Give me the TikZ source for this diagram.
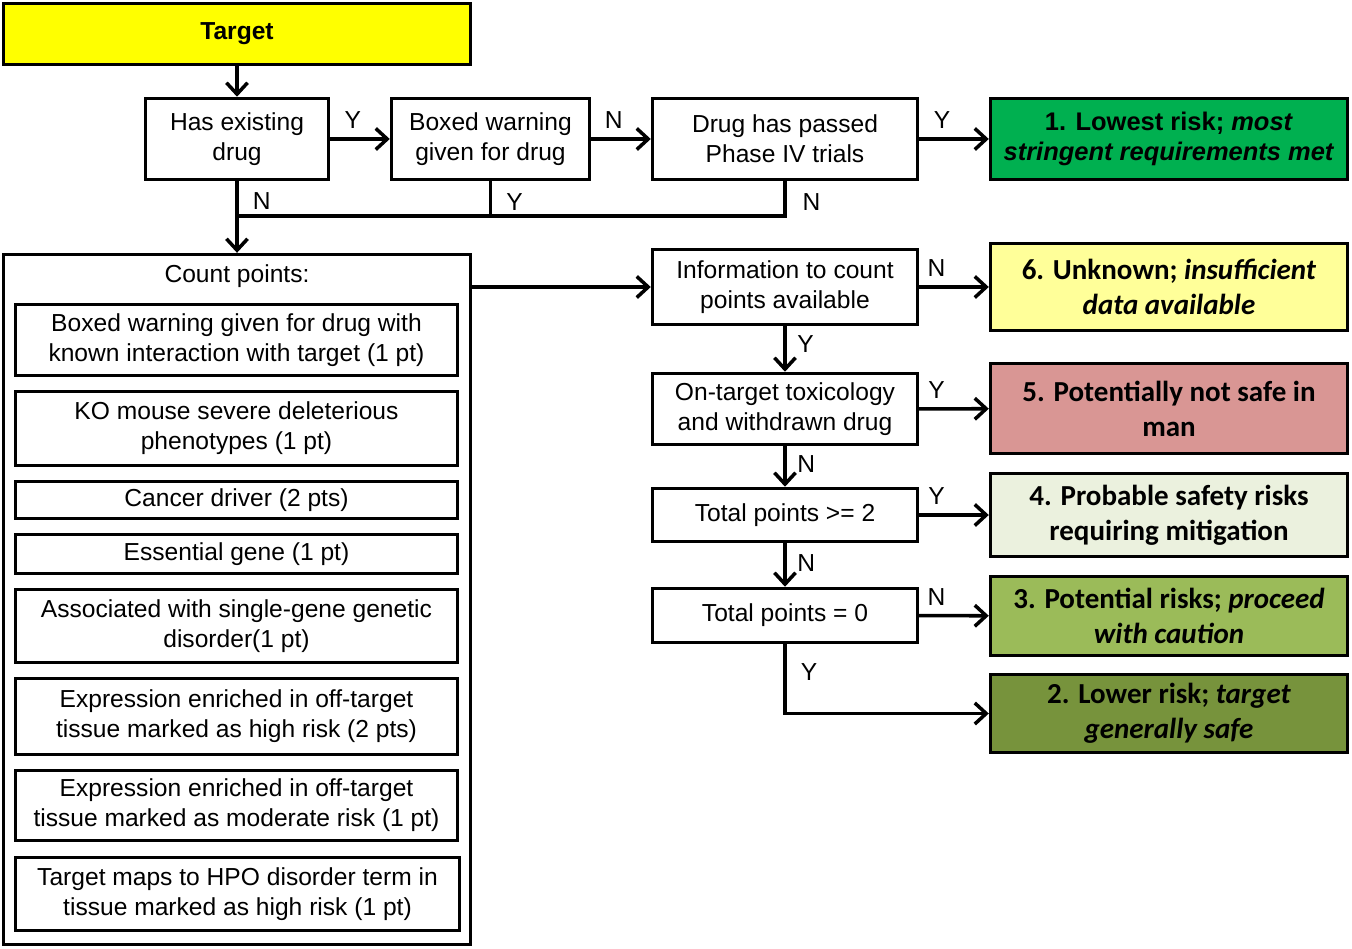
\documentclass[tikz,border=0pt]{standalone}
\usepackage{fontspec}
\setmainfont{Liberation Sans}
\newfontfamily\calfont{Carlito}
\usetikzlibrary{arrows.meta}

\definecolor{tgtyellow}{HTML}{FFFF00}
\definecolor{riskone}{HTML}{00B050}
\definecolor{risktwo}{HTML}{77933C}
\definecolor{riskthree}{HTML}{9BBB59}
\definecolor{riskfour}{HTML}{EBF1DE}
\definecolor{riskfive}{HTML}{D99694}
\definecolor{risksix}{HTML}{FFFF99}

\begin{document}
\begin{tikzpicture}[x=0.02cm, y=-0.02cm,
  box/.style={draw, line width=2pt, align=center, inner sep=0pt,
    font=\fontsize{14}{17}\selectfont},
  res/.style={box, minimum width=7.14cm, font=\calfont\bfseries\fontsize{16.5}{20}\selectfont},
  crit/.style={box, minimum width=8.84cm},
  ques/.style={box, minimum width=5.3cm},
  lnk/.style={line width=2pt},
  arr/.style={lnk, -{Straight Barb[length=6.5pt, width=12pt, line width=2pt]}},
  lbl/.style={font=\fontsize{14}{17}\selectfont, inner sep=2pt}]

  \useasboundingbox (0,0) rectangle (1352,949);

  % -- Start --
  \node[box, fill=tgtyellow, minimum width=9.34cm, minimum height=1.22cm, font=\bfseries\fontsize{14}{17}\selectfont] (target) at (237,34) {Target};

  % -- Top row of decisions --
  \node[box, minimum width=3.66cm, minimum height=1.62cm] (has) at (237,139) {Has existing\\drug};
  \node[box, minimum width=3.96cm, minimum height=1.62cm] (boxed) at (490.5,139) {Boxed warning\\given for drug};
  \node[ques, minimum height=1.62cm] (passed) at (785,139) {Drug has passed\\Phase IV trials};
  \node[res, fill=riskone, minimum height=1.62cm, font=\bfseries\fontsize{14.5}{17}\selectfont] (res1) at (1169,139) {1. Lowest risk; \textit{most}\\\textit{stringent requirements met}};

  \draw[arr] (target) -- (has);
  \draw[arr] (has) -- node[lbl, above, pos=0.38, yshift=3pt] {Y} (boxed);
  \draw[arr] (boxed) -- node[lbl, above, pos=0.38, yshift=3pt] {N} (passed);
  \draw[arr] (passed) -- node[lbl, above, pos=0.33, yshift=3pt] {Y} (res1);

  % -- Back to counting --
  \coordinate (join) at (237,216);
  \draw[lnk] (boxed) |- node[lbl, right, pos=0.3, xshift=6pt] {Y} (join);
  \draw[lnk] (passed) |- node[lbl, right, pos=0.3, xshift=7pt] {N} (join);

  % -- Count points panel --
  \node[box, minimum width=9.34cm, minimum height=13.8cm] (count) at (237,599.5) {};
  \node[lbl] (counttitle) at (237,276) {Count points:};
  \draw[arr] (has) -- node[lbl, right, pos=0.27, xshift=6pt] {N} (count);

  \node[crit, minimum height=1.42cm] (c1) at (236.5,340) {Boxed warning given for drug with\\known interaction with target (1 pt)};
  \node[crit, minimum height=1.48cm] (c2) at (236.5,428.5) {KO mouse severe deleterious\\phenotypes (1 pt)};
  \node[crit, minimum height=0.74cm] (c3) at (236.5,500) {Cancer driver  (2 pts)};
  \node[crit, minimum height=0.78cm] (c4) at (236.5,554) {Essential gene (1 pt)};
  \node[crit, minimum height=1.46cm] (c5) at (236.5,626) {Associated with single-gene genetic\\disorder(1 pt)};
  \node[crit, minimum height=1.52cm] (c6) at (236.5,716.5) {Expression enriched in off-target\\tissue marked as high risk (2 pts)};
  \node[crit, minimum height=1.40cm] (c7) at (236.5,805.5) {Expression enriched in off-target\\tissue marked as moderate risk (1 pt)};
  \node[crit, minimum width=8.88cm, minimum height=1.46cm] (c8) at (237.5,894) {Target maps to HPO disorder term in\\tissue marked as high risk (1 pt)};

  % -- Right column of decisions --
  \node[ques, minimum height=1.5cm] (info) at (785,287) {Information to count\\points available};
  \node[ques, minimum height=1.42cm] (ontox) at (785,409) {On-target toxicology\\and withdrawn drug};
  \node[ques, minimum height=1.06cm] (ge2) at (785,515) {Total points >= 2};
  \node[ques, minimum height=1.08cm] (eq0) at (785,615.5) {Total points = 0};

  % -- Risk classes --
  \node[res, fill=risksix, minimum height=1.74cm] (res6) at (1169,287) {6. Unknown; \textit{insufficient}\\\textit{data available}};
  \node[res, fill=riskfive, minimum height=1.8cm] (res5) at (1169,408.5) {5. Potentially not safe in\\man};
  \node[res, fill=riskfour, minimum height=1.66cm] (res4) at (1169,515) {4. Probable safety risks\\requiring mitigation};
  \node[res, fill=riskthree, minimum height=1.58cm] (res3) at (1169,616) {3. Potential risks; \textit{proceed}\\\textit{with caution}};
  \node[res, fill=risktwo, minimum height=1.56cm] (res2) at (1169,713.5) {2. Lower risk; \textit{target}\\\textit{generally safe}};

  \draw[arr] (info.west -| count.east) -- (info);
  \draw[arr] (info) -- node[lbl, above, pos=0.25, yshift=3pt] {N} (res6);
  \draw[arr] (info) -- node[lbl, right, pos=0.4, xshift=4pt] {Y} (ontox);
  \draw[arr] (ontox) -- node[lbl, above, pos=0.25, yshift=3pt] {Y} (res5);
  \draw[arr] (ontox) -- node[lbl, right, pos=0.45, xshift=4pt] {N} (ge2);
  \draw[arr] (ge2) -- node[lbl, above, pos=0.25, yshift=3pt] {Y} (res4);
  \draw[arr] (ge2) -- node[lbl, right, pos=0.45, xshift=4pt] {N} (eq0);
  \draw[arr] (eq0) -- node[lbl, above, pos=0.25, yshift=3pt] {N} (res3);
  \draw[arr] (eq0) |- node[lbl, right, pos=0.2, xshift=6pt] {Y} (res2);

\end{tikzpicture}
\end{document}
